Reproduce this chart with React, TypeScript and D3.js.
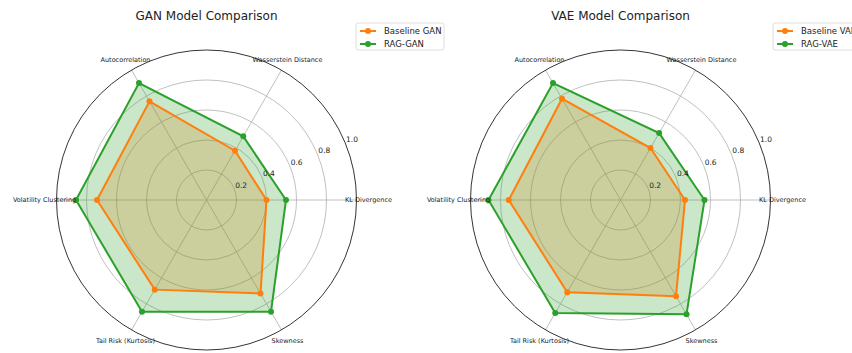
import React, { useRef, useEffect } from "react";
import * as d3 from "d3";

const categories = [
  "KL Divergence",
  "Wasserstein Distance",
  "Autocorrelation",
  "Volatility Clustering",
  "Tail Risk (Kurtosis)",
  "Skewness",
];
const rTicks = [0.2, 0.4, 0.6, 0.8, 1.0];

const ganBaseline = [0.4, 0.38, 0.76, 0.73, 0.69, 0.72];
const ganRag = [0.53, 0.49, 0.9, 0.87, 0.86, 0.86];
const vaeBaseline = [0.43, 0.4, 0.78, 0.745, 0.71, 0.74];
const vaeRag = [0.56, 0.515, 0.9, 0.88, 0.87, 0.88];

const panels = [
  { title: "GAN Model Comparison", names: ["Baseline GAN", "RAG-GAN"], series: [ganBaseline, ganRag] },
  { title: "VAE Model Comparison", names: ["Baseline VAE", "RAG-VAE"], series: [vaeBaseline, vaeRag] },
];

const colors = ["#ff7f0e", "#2ca02c"];
const font = "DejaVu Sans, sans-serif";

const App: React.FC = () => {
  const ref = useRef<SVGSVGElement>(null);

  useEffect(() => {
    document.body.style.margin = "0";
    const svg = d3.select(ref.current);
    svg.selectAll("*").remove();

    const R = 150,
      cy = 200,
      centers = [206.5, 620.5],
      legendX = [356, 773];

    const r = d3.scaleLinear().domain([0, 1]).range([0, R]);
    // matplotlib polar: angle CCW from east; d3 radial: CW from north
    const angle = (i: number) => Math.PI / 2 - (i * 2 * Math.PI) / categories.length;

    panels.forEach((p, pi) => {
      const cx = centers[pi];
      const g = svg.append("g").attr("transform", `translate(${cx},${cy})`);

      // grid circles
      g.selectAll("circle.grid")
        .data(rTicks.slice(0, -1))
        .enter()
        .append("circle")
        .attr("r", (d) => r(d))
        .attr("fill", "none")
        .attr("stroke", "#b0b0b0")
        .attr("stroke-width", 0.8);

      // spokes
      g.selectAll("line.spoke")
        .data(categories)
        .enter()
        .append("line")
        .attr("x1", 0)
        .attr("y1", 0)
        .attr("x2", (_, i) => r(1) * Math.sin(angle(i)))
        .attr("y2", (_, i) => -r(1) * Math.cos(angle(i)))
        .attr("stroke", "#b0b0b0")
        .attr("stroke-width", 0.8);

      // outer spine
      g.append("circle")
        .attr("r", r(1))
        .attr("fill", "none")
        .attr("stroke", "#000")
        .attr("stroke-width", 0.8);

      const line = d3
        .lineRadial<number>()
        .angle((_, i) => angle(i))
        .radius((d) => r(d))
        .curve(d3.curveLinearClosed);

      // fills below lines
      p.series.forEach((vals, si) => {
        g.append("path")
          .attr("d", line(vals)!)
          .attr("fill", colors[si])
          .attr("fill-opacity", 0.25)
          .attr("stroke", "none");
      });
      p.series.forEach((vals, si) => {
        g.append("path")
          .attr("d", line(vals)!)
          .attr("fill", "none")
          .attr("stroke", colors[si])
          .attr("stroke-width", 2);
        g.selectAll(`circle.pt${si}`)
          .data(vals)
          .enter()
          .append("circle")
          .attr("cx", (d, i) => r(d) * Math.sin(angle(i)))
          .attr("cy", (d, i) => -r(d) * Math.cos(angle(i)))
          .attr("r", 3)
          .attr("fill", colors[si]);
      });

      // radial tick labels at 22.5 deg
      const a = (22.5 * Math.PI) / 180;
      g.selectAll("text.rtick")
        .data(rTicks)
        .enter()
        .append("text")
        .attr("x", (d) => r(d) * Math.cos(a) + 1)
        .attr("y", (d) => -r(d) * Math.sin(a) - 1)
        .attr("font-family", font)
        .attr("font-size", 7.5)
        .attr("fill", "#222")
        .text((d) => d.toFixed(1));

      // category labels
      g.selectAll("text.cat")
        .data(categories)
        .enter()
        .append("text")
        .attr("x", (_, i) => (R + 12) * Math.sin(angle(i)))
        .attr("y", (_, i) => -(R + 12) * Math.cos(angle(i)))
        .attr("dy", "0.35em")
        .attr("text-anchor", "middle")
        .attr("font-family", font)
        .attr("font-size", 6.5)
        .attr("fill", "#222")
        .text((d) => d);

      // title
      svg
        .append("text")
        .attr("x", cx)
        .attr("y", 20)
        .attr("text-anchor", "middle")
        .attr("font-family", font)
        .attr("font-size", 12)
        .attr("fill", "#222")
        .text(p.title);

      // legend
      const lg = svg.append("g").attr("transform", `translate(${legendX[pi]},23)`);
      lg.append("rect")
        .attr("width", 88)
        .attr("height", 27)
        .attr("rx", 2)
        .attr("fill", "#fff")
        .attr("fill-opacity", 0.8)
        .attr("stroke", "#d5d5d5")
        .attr("stroke-width", 0.8);
      p.names.forEach((name, si) => {
        const y = 8 + si * 13;
        lg.append("line")
          .attr("x1", 4)
          .attr("x2", 20)
          .attr("y1", y)
          .attr("y2", y)
          .attr("stroke", colors[si])
          .attr("stroke-width", 2);
        lg.append("circle").attr("cx", 12).attr("cy", y).attr("r", 3).attr("fill", colors[si]);
        lg.append("text")
          .attr("x", 28)
          .attr("y", y)
          .attr("dy", "0.35em")
          .attr("font-family", font)
          .attr("font-size", 8.5)
          .attr("fill", "#222")
          .text(name);
      });
    });
  }, []);

  return <svg ref={ref} width={852} height={353} style={{ display: "block" }} />;
};

export default App;
